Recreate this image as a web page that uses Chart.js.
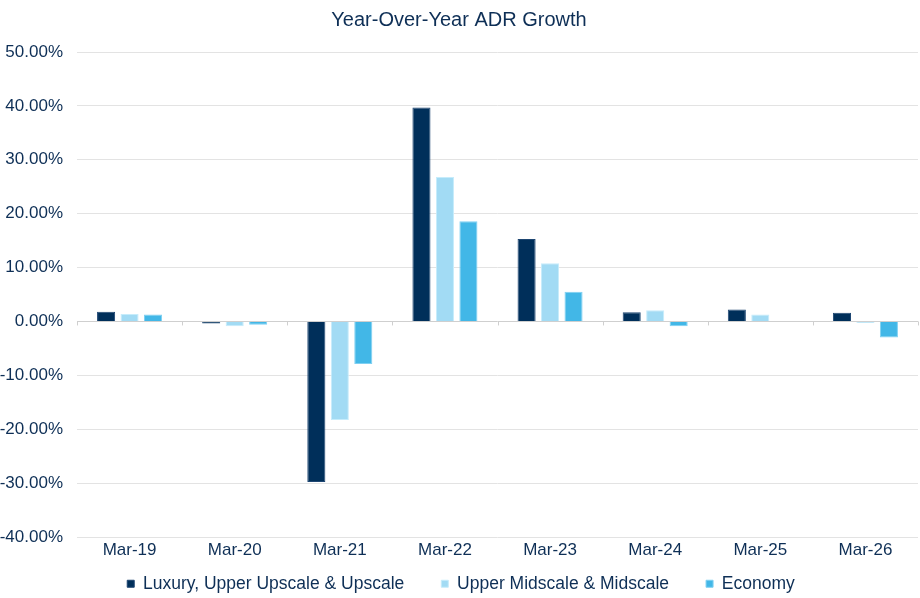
<!DOCTYPE html>
<html>
<head>
<meta charset="utf-8">
<script src="https://cdn.jsdelivr.net/npm/chart.js@4.4.1/dist/chart.umd.min.js"></script>
<style>
  html, body { margin: 0; padding: 0; background: #ffffff; }
  #wrap { width: 920px; height: 598px; }
</style>
</head>
<body>
<div id="wrap"><canvas id="c" width="920" height="598"></canvas></div>
<script>
const categories = ["Mar-19", "Mar-20", "Mar-21", "Mar-22", "Mar-23", "Mar-24", "Mar-25", "Mar-26"];
const seriesNames = ["Luxury, Upper Upscale & Upscale", "Upper Midscale & Midscale", "Economy"];
const luxuryValues = [1.8, -0.4, -29.8, 39.7, 15.3, 1.7, 2.2, 1.6];
const midscaleValues = [1.4, -0.9, -18.3, 26.8, 10.8, 2.1, 1.3, -0.3];
const economyValues = [1.3, -0.6, -7.9, 18.6, 5.5, -0.9, 0.1, -3.0];
const yMin = -40, yMax = 50, yStep = 10;
const chartTitle = "Year-Over-Year ADR Growth";

const TEXT = "#0E2F56";
const FONT = "'Liberation Sans', Arial, Helvetica, sans-serif";

// Small category-boundary tick marks on the zero line
const zeroTicks = {
  id: 'zeroTicks',
  beforeDatasetsDraw(chart) {
    const x = chart.scales.x, y = chart.scales.y;
    const y0 = y.getPixelForValue(0);
    const n = x.ticks.length;
    const step = (x.right - x.left) / n;
    const ctx = chart.ctx;
    ctx.save();
    ctx.strokeStyle = '#CFCFCF';
    ctx.lineWidth = 1;
    for (let i = 0; i <= n; i++) {
      const px = Math.round(x.left + i * step) + 0.5;
      ctx.beginPath();
      ctx.moveTo(px, y0);
      ctx.lineTo(px, y0 + 4);
      ctx.stroke();
    }
    ctx.restore();
  }
};

// Legend: wide horizontal gaps without a tall legend box
const legendTweak = {
  id: 'legendTweak',
  afterInit(chart) {
    const lg = chart.legend;
    if (!lg) return;
    const origFit = lg.fit.bind(lg);
    lg.fit = function () { origFit(); this.height = 30; };
    lg.draw = function () {
      const c = this.ctx;
      c.save();
      c.translate(2, -30);
      this._draw();
      c.restore();
    };
  }
};

new Chart(document.getElementById('c'), {
  type: 'bar',
  data: {
    labels: categories,
    datasets: [
      { label: seriesNames[0], data: luxuryValues, backgroundColor: '#002F5A', borderColor: '#1E4672', borderWidth: 1 },
      { label: seriesNames[1], data: midscaleValues, backgroundColor: '#A2DBF4', borderColor: '#C6ECFB', borderWidth: 1 },
      { label: seriesNames[2], data: economyValues, backgroundColor: '#42B7E7', borderColor: '#7FD0F2', borderWidth: 1 }
    ]
  },
  options: {
    responsive: false,
    animation: false,
    devicePixelRatio: 1,
    layout: { padding: { left: 0, right: 2, top: 0, bottom: 0 } },
    datasets: { bar: { categoryPercentage: 0.67, barPercentage: 0.77 } },
    scales: {
      x: {
        grid: { display: false, drawTicks: false },
        border: { display: false },
        ticks: { color: TEXT, font: { family: FONT, size: 17 }, padding: 3, maxRotation: 0 },
        afterFit(scale) { scale.height = 31; }
      },
      y: {
        min: yMin, max: yMax,
        grid: {
          drawTicks: false,
          color: (ctx) => (ctx.tick && ctx.tick.value === 0) ? '#CFCFCF' : '#E3E3E3',
          lineWidth: 1
        },
        border: { display: false },
        ticks: {
          stepSize: yStep,
          color: TEXT,
          font: { family: FONT, size: 17 },
          padding: 14,
          callback: (v) => Number(v).toFixed(2) + '%'
        },
        afterFit(scale) { scale.width = 77; }
      }
    },
    plugins: {
      title: {
        display: true,
        text: chartTitle,
        color: TEXT,
        font: { family: FONT, size: 20, weight: 'normal' },
        padding: { top: 8, bottom: 20 }
      },
      legend: {
        display: true,
        position: 'bottom',
        labels: {
          color: TEXT,
          font: { family: FONT, size: 17.5 },
          boxWidth: 7,
          boxHeight: 7,
          padding: 37
        }
      },
      tooltip: { enabled: false }
    }
  },
  plugins: [zeroTicks, legendTweak]
});
</script>
</body>
</html>
